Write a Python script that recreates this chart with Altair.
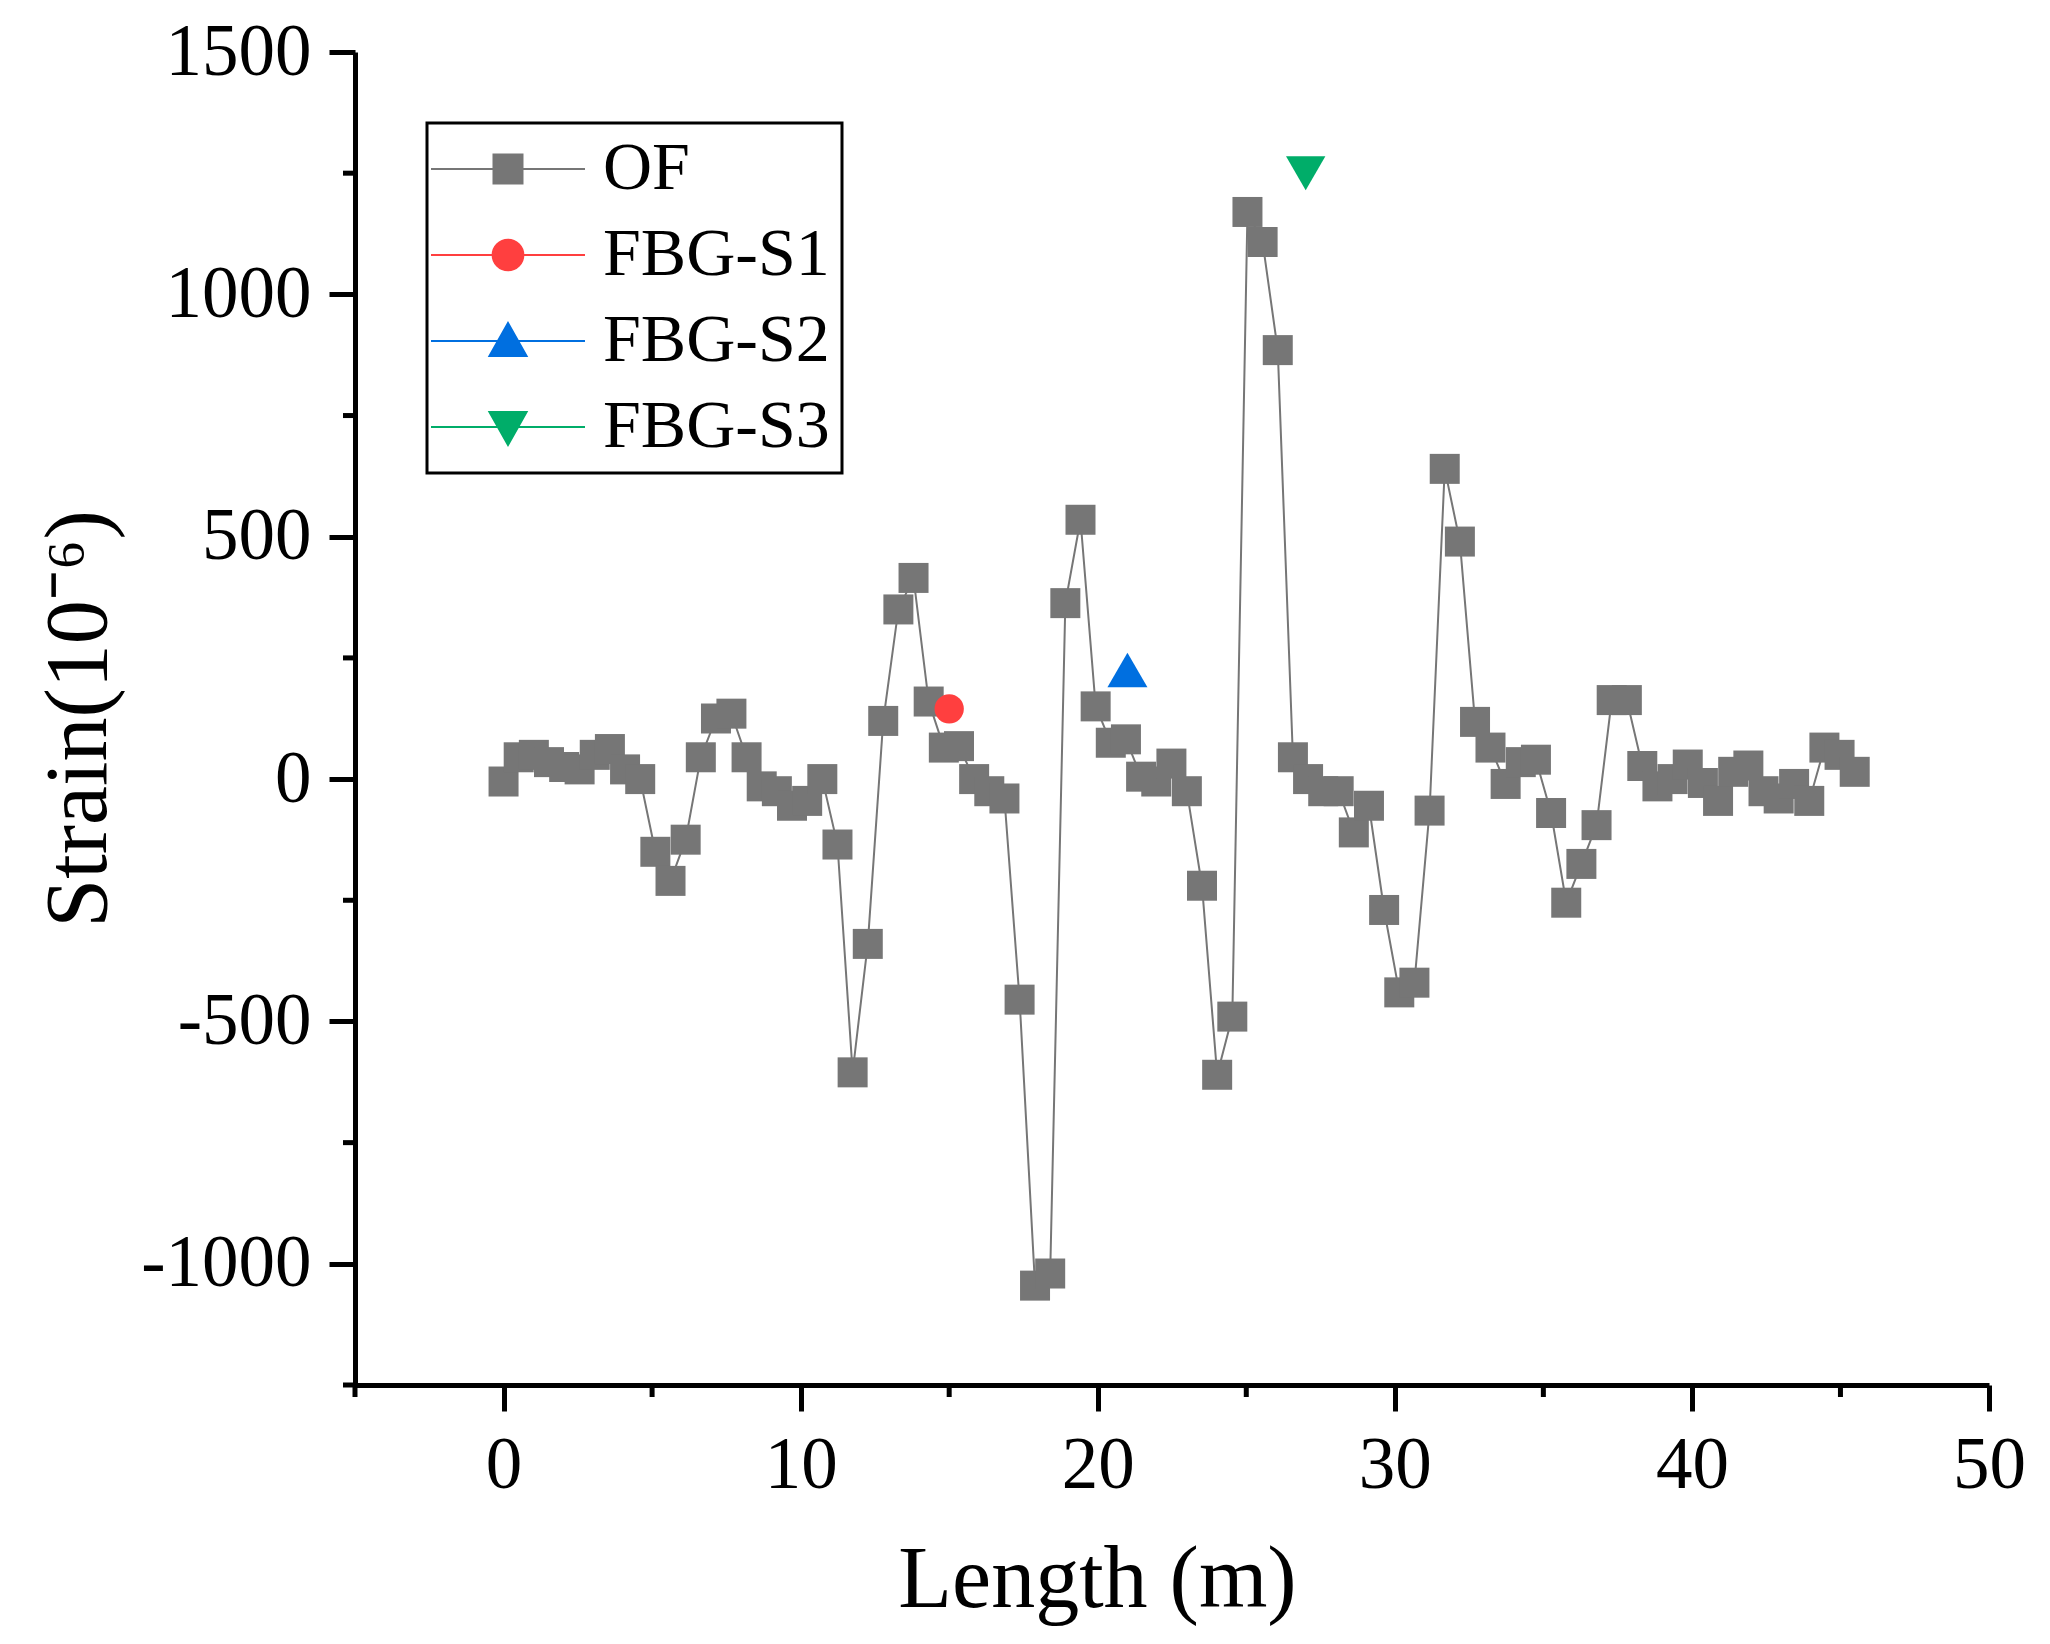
import altair as alt
import pandas as pd

FONT = "Liberation Serif"

# ---- data ----
length_m = [0.00, 0.51, 1.02, 1.53, 2.04, 2.56, 3.07, 3.58, 4.09, 4.60,
            5.11, 5.62, 6.13, 6.64, 7.15, 7.67, 8.18, 8.69, 9.20, 9.71,
            10.22, 10.73, 11.24, 11.75, 12.26, 12.78, 13.29, 13.80, 14.31, 14.82,
            15.33, 15.84, 16.35, 16.86, 17.37, 17.89, 18.40, 18.91, 19.42, 19.93,
            20.44, 20.95, 21.46, 21.97, 22.48, 23.00, 23.51, 24.02, 24.53, 25.04,
            25.55, 26.06, 26.57, 27.08, 27.59, 28.11, 28.62, 29.13, 29.64, 30.15,
            30.66, 31.17, 31.68, 32.19, 32.70, 33.22, 33.73, 34.24, 34.75, 35.26,
            35.77, 36.28, 36.79, 37.30, 37.81, 38.33, 38.84, 39.35, 39.86, 40.37,
            40.88, 41.39, 41.90, 42.41, 42.92, 43.44, 43.95, 44.46, 44.97, 45.48]
strain_of = [-5, 45, 50, 35, 25, 20, 50, 62, 20, 0,
             -150, -210, -125, 45, 125, 135, 45, -15, -25, -55,
             -45, 0, -135, -605, -340, 120, 350, 415, 160, 65,
             68, 0, -25, -40, -455, -1045, -1020, 363, 535, 150,
             75, 82, 5, -5, 32, -25, -220, -610, -490, 1170,
             1108, 885, 45, 0, -25, -25, -110, -55, -270, -440,
             -420, -65, 640, 490, 118, 65, -10, 35, 40, -70,
             -255, -175, -95, 163, 163, 27, -15, 0, 30, -8,
             -45, 15, 28, -25, -40, -10, -45, 65, 50, 15]

fbg_names = ["FBG-S1", "FBG-S2", "FBG-S3"]
fbg_length = [15.0, 21.0, 27.0]
fbg_strain = [145, 225, 1250]
fbg_shapes = ["circle", "triangle-up", "triangle-down"]
fbg_sizes = [860, 1600, 1550]

series_names = ["OF", "FBG-S1", "FBG-S2", "FBG-S3"]
series_colors = ["#767676", "#FF3F3F", "#006FE0", "#00AD69"]

x_ticks = [0, 10, 20, 30, 40, 50]
x_minor = [-5, 5, 15, 25, 35, 45]
y_ticks = [-1000, -500, 0, 500, 1000, 1500]
y_minor = [-1250, -750, -250, 250, 750, 1250]
x_domain = [-5, 50]
y_domain = [-1250, 1500]

# legend glyphs: a line through the marker (custom symbol paths)
legend_paths = [
    "M-1,0L4.31,0M1.155,-0.5L2.155,-0.5L2.155,0.5L1.155,0.5Z",
    "M-1,0L4.31,0M2.185,0C2.185,0.2927,1.9477,0.53,1.655,0.53C1.3623,0.53,1.125,0.2927,1.125,0"
    "C1.125,-0.2927,1.3623,-0.53,1.655,-0.53C1.9477,-0.53,2.185,-0.2927,2.185,0Z",
    "M-1,0L4.31,0M1.655,-0.62L2.295,0.52L1.015,0.52Z",
    "M-1,0L4.31,0M1.655,0.62L2.295,-0.52L1.015,-0.52Z",
]

W, H = 1634, 1333

of_df = pd.DataFrame({"length": length_m, "strain": strain_of, "series": "OF"})
fbg_df = pd.DataFrame({"length": fbg_length, "strain": fbg_strain, "series": fbg_names})
legend_df = pd.DataFrame({"length": [0.0] * 4, "strain": [0.0] * 4, "series": series_names})
xminor_df = pd.DataFrame({"length": x_minor})
yminor_df = pd.DataFrame({"strain": y_minor})

xscale = alt.Scale(domain=x_domain, nice=False, zero=False)
yscale = alt.Scale(domain=y_domain, nice=False, zero=False)

x_axis = alt.Axis(
    title="Length (m)", values=x_ticks, labelExpr="'' + datum.value", grid=False,
    labelFont=FONT, labelFontSize=73, labelColor="black", labelPadding=18,
    labelFlush=False, labelLimit=500, tickSize=26, tickWidth=5, tickColor="black",
    domainColor="black", domainWidth=5,
    titleFont=FONT, titleFontSize=88, titleFontWeight="normal", titleColor="black",
    titleX=742, titleY=221, titleAlign="center", titleBaseline="alphabetic",
)
y_axis = alt.Axis(
    title="Strain(10⁻⁶)", values=y_ticks, labelExpr="'' + datum.value", grid=False,
    labelFont=FONT, labelFontSize=73, labelColor="black", labelPadding=18,
    labelFlush=False, labelLimit=500, tickSize=26, tickWidth=5, tickColor="black",
    domainColor="black", domainWidth=5,
    titleFont=FONT, titleFontSize=88, titleFontWeight="normal", titleColor="black",
    titleX=-250, titleY=H / 2, titleAngle=270, titleAlign="center",
    titleBaseline="alphabetic",
)

base_x = alt.X("length:Q", scale=xscale, axis=x_axis, title="Length (m)")
base_y = alt.Y("strain:Q", scale=yscale, axis=y_axis, title="Strain(10⁻⁶)")

of_line = alt.Chart(of_df).mark_line(color=series_colors[0], strokeWidth=2).encode(
    x=base_x, y=base_y
)
of_pts = alt.Chart(of_df).mark_point(
    shape="square", filled=True, size=900, color=series_colors[0], opacity=1
).encode(x=base_x, y=base_y)

layers = [of_line, of_pts]
for i, name in enumerate(fbg_names):
    layers.append(
        alt.Chart(fbg_df).transform_filter(alt.datum.series == name).mark_point(
            shape=fbg_shapes[i], filled=True, size=fbg_sizes[i],
            color=series_colors[i + 1], opacity=1
        ).encode(x=base_x, y=base_y)
    )

leg = alt.Legend(
    title=None, orient="none", legendX=72, legendY=71,
    labelFont=FONT, labelFontSize=68, labelColor="black", labelLimit=600,
    symbolSize=3364, symbolStrokeWidth=2, labelOffset=109, symbolOffset=-13,
    rowPadding=18, padding=12, strokeColor="black",
)
legend_layer = alt.Chart(legend_df).transform_filter("datum.length > 1000").mark_point(
    filled=True, opacity=1
).encode(
    x=base_x, y=base_y,
    fill=alt.Fill("series:N", scale=alt.Scale(domain=series_names, range=series_colors), legend=leg),
    stroke=alt.Stroke("series:N", scale=alt.Scale(domain=series_names, range=series_colors), legend=leg),
    shape=alt.Shape("series:N", scale=alt.Scale(domain=series_names, range=legend_paths), legend=leg),
)
layers.append(legend_layer)

xminor = alt.Chart(xminor_df).mark_rule(color="black", strokeWidth=5).encode(
    x=base_x,
    y=alt.value(H), y2=alt.value(H + 12),
)
yminor = alt.Chart(yminor_df).mark_rule(color="black", strokeWidth=5).encode(
    y=base_y,
    x=alt.value(-12), x2=alt.value(0),
)
layers += [xminor, yminor]

chart = alt.layer(*layers).properties(
    width=W, height=H,
    autosize=alt.AutoSizeParams(type="none"),
    padding={"left": 347, "top": 44, "right": 53, "bottom": 250},
    background="white",
).configure_view(stroke=None).configure_legend(strokeWidth=3)

chart.save("out.html", embed_options={"renderer": "svg", "actions": False})
